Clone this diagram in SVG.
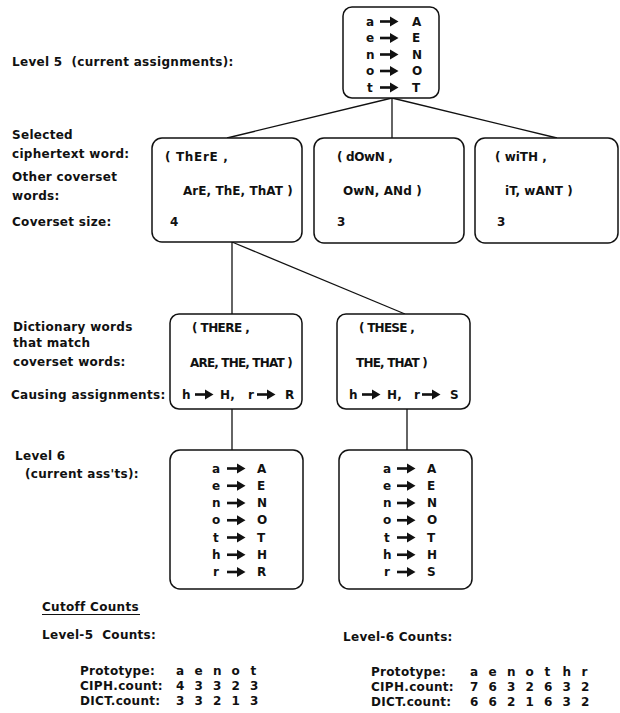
<svg xmlns="http://www.w3.org/2000/svg" xmlns:xlink="http://www.w3.org/1999/xlink" width="620" height="713" viewBox="0 0 620 713">
<style>
text{font-family:"DejaVu Sans","Liberation Sans",sans-serif;font-weight:bold;font-size:12px;fill:#111;letter-spacing:0.3px}
.pre{white-space:pre}
.box{fill:#fff;stroke:#111;stroke-width:1.5}
.con{stroke:#111;stroke-width:1.3;fill:none}
.ar{fill:#111;stroke:none}
</style>
<defs>
<g id="arr"><rect class="ar" x="0" y="-1.3" width="12" height="2.6"/><path class="ar" d="M10,-5 L18.5,0 L10,5 Z"/></g>
</defs>
<rect width="620" height="713" fill="#fff"/>

<g id="labels">
<text class="pre" x="12" y="66">Level 5  (current assignments):</text>
<text x="12" y="139">Selected</text>
<text x="12" y="158">ciphertext word:</text>
<text x="12" y="180.5">Other coverset</text>
<text x="12" y="199.5">words:</text>
<text x="12" y="225.5">Coverset size:</text>
<text x="13" y="330.5">Dictionary words</text>
<text x="13" y="347">that match</text>
<text x="13" y="365.5">coverset words:</text>
<text x="11" y="398.5">Causing assignments:</text>
<text x="15" y="460">Level 6</text>
<text x="25" y="478">(current ass'ts):</text>
</g>

<g id="connectors">
<line class="con" x1="392" y1="98" x2="227" y2="138"/>
<line class="con" x1="392" y1="98" x2="392" y2="138"/>
<line class="con" x1="392" y1="98" x2="557" y2="138"/>
<line class="con" x1="232" y1="242" x2="232" y2="314"/>
<line class="con" x1="232" y1="242" x2="405" y2="314"/>
<line class="con" x1="232" y1="409" x2="232" y2="450"/>
<line class="con" x1="407" y1="409" x2="407" y2="450"/>
</g>

<g id="level5">
<rect class="box" x="343" y="7" width="96" height="91" rx="9"/>
<text x="366" y="25.5">a</text><use xlink:href="#arr" x="380" y="21.5"/><text x="412" y="25.5">A</text>
<text x="366" y="42">e</text><use xlink:href="#arr" x="380" y="38"/><text x="412" y="42">E</text>
<text x="366" y="58.5">n</text><use xlink:href="#arr" x="380" y="54.5"/><text x="412" y="58.5">N</text>
<text x="366" y="75">o</text><use xlink:href="#arr" x="380" y="71"/><text x="412" y="75">O</text>
<text x="367" y="91.5">t</text><use xlink:href="#arr" x="380" y="87.5"/><text x="412" y="91.5">T</text>
</g>

<g id="cover-there">
<rect class="box" x="152" y="138" width="150" height="104" rx="10"/>
<text x="165" y="160.5" textLength="63" lengthAdjust="spacing">( ThErE ,</text>
<text x="183" y="194.5" textLength="110" lengthAdjust="spacing">ArE, ThE, ThAT )</text>
<text x="170" y="225.5">4</text>
</g>
<g id="cover-down">
<rect class="box" x="314" y="138" width="150" height="105" rx="10"/>
<text x="337" y="160.5" textLength="56" lengthAdjust="spacing">( dOwN ,</text>
<text x="343" y="194.5" textLength="79" lengthAdjust="spacing">OwN, ANd )</text>
<text x="337" y="225.5">3</text>
</g>
<g id="cover-with">
<rect class="box" x="475" y="138" width="143" height="105" rx="10"/>
<text x="495" y="160.5" textLength="52" lengthAdjust="spacing">( wiTH ,</text>
<text x="505" y="194.5" textLength="68" lengthAdjust="spacing">iT, wANT )</text>
<text x="497" y="225.5">3</text>
</g>

<g id="dict-there">
<rect class="box" x="170" y="314" width="132" height="95" rx="9"/>
<text x="192" y="331.5" textLength="58" lengthAdjust="spacing">( THERE ,</text>
<text x="190" y="366.5" textLength="103" lengthAdjust="spacing">ARE, THE, THAT )</text>
<text x="182" y="398.5">h</text><use xlink:href="#arr" x="195" y="394.5"/><text x="220" y="398.5">H,</text>
<text x="248" y="398.5">r</text><use xlink:href="#arr" x="257" y="394.5"/><text x="285" y="398.5">R</text>
</g>
<g id="dict-these">
<rect class="box" x="337" y="314" width="133" height="95" rx="9"/>
<text x="359" y="331.5" textLength="56" lengthAdjust="spacing">( THESE ,</text>
<text x="356" y="366.5" textLength="72" lengthAdjust="spacing">THE, THAT )</text>
<text x="349" y="398.5">h</text><use xlink:href="#arr" x="362" y="394.5"/><text x="387" y="398.5">H,</text>
<text x="414" y="398.5">r</text><use xlink:href="#arr" x="422" y="394.5"/><text x="450" y="398.5">S</text>
</g>

<g id="level6-r">
<rect class="box" x="170" y="450" width="133" height="139" rx="10"/>
<text x="212" y="472.5">a</text><use xlink:href="#arr" x="227" y="468.5"/><text x="257" y="472.5">A</text>
<text x="212" y="489.75">e</text><use xlink:href="#arr" x="227" y="485.75"/><text x="257" y="489.75">E</text>
<text x="212" y="507">n</text><use xlink:href="#arr" x="227" y="503"/><text x="257" y="507">N</text>
<text x="212" y="524.25">o</text><use xlink:href="#arr" x="227" y="520.25"/><text x="257" y="524.25">O</text>
<text x="213" y="541.5">t</text><use xlink:href="#arr" x="227" y="537.5"/><text x="257" y="541.5">T</text>
<text x="212" y="558.75">h</text><use xlink:href="#arr" x="227" y="554.75"/><text x="257" y="558.75">H</text>
<text x="213" y="576">r</text><use xlink:href="#arr" x="227" y="572"/><text x="257" y="576">R</text>
</g>
<g id="level6-s">
<rect class="box" x="339" y="450" width="133" height="139" rx="10"/>
<text x="383" y="472.5">a</text><use xlink:href="#arr" x="397" y="468.5"/><text x="427" y="472.5">A</text>
<text x="383" y="489.75">e</text><use xlink:href="#arr" x="397" y="485.75"/><text x="427" y="489.75">E</text>
<text x="383" y="507">n</text><use xlink:href="#arr" x="397" y="503"/><text x="427" y="507">N</text>
<text x="383" y="524.25">o</text><use xlink:href="#arr" x="397" y="520.25"/><text x="427" y="524.25">O</text>
<text x="384" y="541.5">t</text><use xlink:href="#arr" x="397" y="537.5"/><text x="427" y="541.5">T</text>
<text x="383" y="558.75">h</text><use xlink:href="#arr" x="397" y="554.75"/><text x="427" y="558.75">H</text>
<text x="384" y="576">r</text><use xlink:href="#arr" x="397" y="572"/><text x="427" y="576">S</text>
</g>

<g id="counts">
<text x="42" y="611">Cutoff Counts</text>
<line x1="42" y1="614.5" x2="140" y2="614.5" stroke="#111" stroke-width="1"/>
<text class="pre" x="42" y="638.5">Level-5  Counts:</text>
<text x="343" y="640.5">Level-6 Counts:</text>
<text x="80" y="674.5">Prototype:</text>
<text x="80" y="689.5">CIPH.count:</text>
<text x="80" y="704.5">DICT.count:</text>
<text x="371" y="675.5">Prototype:</text>
<text x="371" y="690.5">CIPH.count:</text>
<text x="371" y="705.5">DICT.count:</text>
</g>
<g id="count-values">
<text y="674.5"><tspan x="176">a</tspan><tspan x="194.5">e</tspan><tspan x="213">n</tspan><tspan x="231.5">o</tspan><tspan x="250.5">t</tspan></text>
<text y="689.5"><tspan x="176">4</tspan><tspan x="194.5">3</tspan><tspan x="213">3</tspan><tspan x="231.5">2</tspan><tspan x="250">3</tspan></text>
<text y="704.5"><tspan x="176">3</tspan><tspan x="194.5">3</tspan><tspan x="213">2</tspan><tspan x="231.5">1</tspan><tspan x="250">3</tspan></text>
<text y="675.5"><tspan x="470">a</tspan><tspan x="488.5">e</tspan><tspan x="507">n</tspan><tspan x="525.5">o</tspan><tspan x="544.5">t</tspan><tspan x="562.5">h</tspan><tspan x="581.5">r</tspan></text>
<text y="690.5"><tspan x="470">7</tspan><tspan x="488.5">6</tspan><tspan x="507">3</tspan><tspan x="525.5">2</tspan><tspan x="544">6</tspan><tspan x="562.5">3</tspan><tspan x="581">2</tspan></text>
<text y="705.5"><tspan x="470">6</tspan><tspan x="488.5">6</tspan><tspan x="507">2</tspan><tspan x="525.5">1</tspan><tspan x="544">6</tspan><tspan x="562.5">3</tspan><tspan x="581">2</tspan></text>
</g>
</svg>
